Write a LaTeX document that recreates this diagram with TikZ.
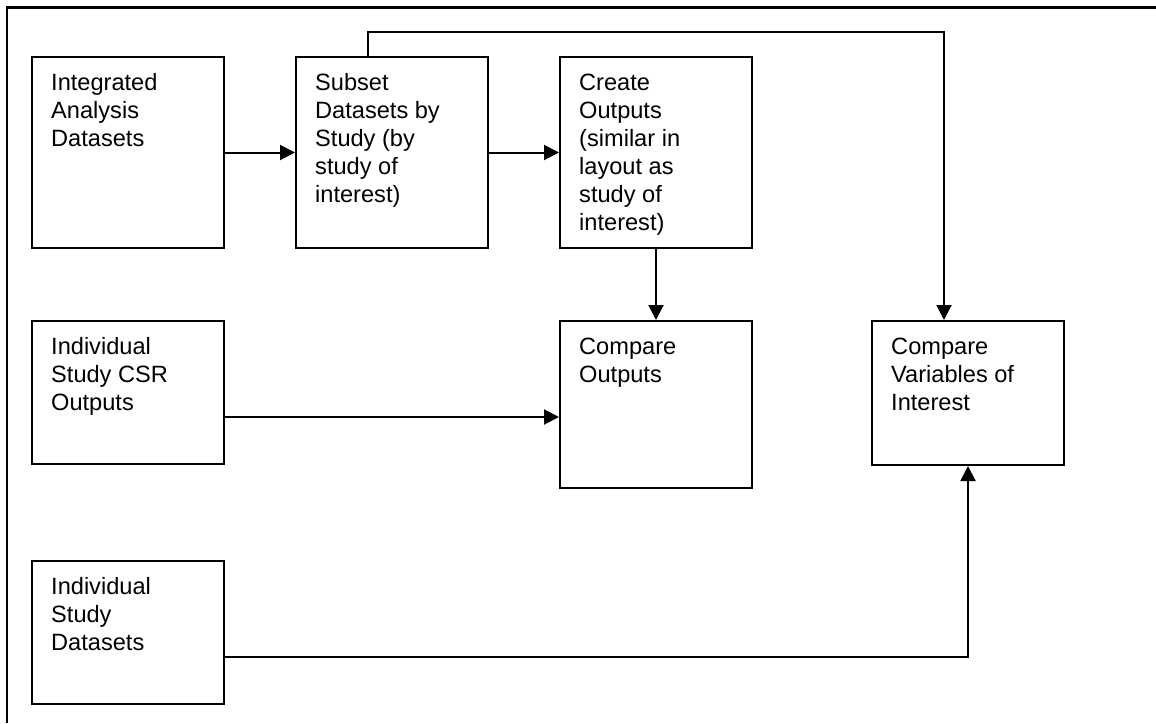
\documentclass[tikz,border=0pt]{standalone}
\usepackage{fontspec}
\setmainfont{Liberation Sans}
\usetikzlibrary{arrows.meta,calc}
\begin{document}
\begin{tikzpicture}[x=1pt,y=-1pt,
  box/.style={draw, line width=2pt, minimum width=192pt, inner sep=0pt},
  txt/.style={anchor=base west, align=left, inner sep=0pt, font=\fontsize{23.6}{28}\selectfont},
  conn/.style={line width=2pt},
  arr/.style={conn, -{Triangle[length=15pt,width=15pt]}},
  frame/.style={line width=2.5pt}]
\useasboundingbox (0,0) rectangle (1156,723);
\draw[frame] (7,723) -- (7,7.5) -- (1156,7.5);
% boxes
\node[box, minimum height=191pt] (A) at (128,152.5) {};
\node[box, minimum height=191pt] (B) at (392,152.5) {};
\node[box, minimum height=191pt] (C) at (656,152.5) {};
\node[box, minimum height=143pt] (D) at (128,392.5) {};
\node[box, minimum height=167pt] (E) at (656,404.5) {};
\node[box, minimum height=144pt] (F) at (968,393) {};
\node[box, minimum height=143pt] (G) at (128,632.5) {};
% texts (anchored at baseline of last line)
\node[txt] (tA) at ([xshift=20pt,yshift=-90pt]A.north west) {Integrated\\Analysis\\Datasets};
\node[txt] (tB) at ([xshift=20pt,yshift=-146pt]B.north west) {Subset\\Datasets by\\Study (by\\study of\\interest)};
\node[txt] (tC) at ([xshift=20pt,yshift=-174pt]C.north west) {Create\\Outputs\\(similar in\\layout as\\study of\\interest)};
\node[txt] (tD) at ([xshift=20pt,yshift=-90pt]D.north west) {Individual\\Study CSR\\Outputs};
\node[txt] (tE) at ([xshift=20pt,yshift=-62pt]E.north west) {Compare\\Outputs};
\node[txt] (tF) at ([xshift=20pt,yshift=-90pt]F.north west) {Compare\\Variables of\\Interest};
\node[txt] (tG) at ([xshift=20pt,yshift=-90pt]G.north west) {Individual\\Study\\Datasets};
% connectors
\draw[arr] (A.east) -- (B.west);
\draw[arr] (B.east) -- (C.west);
\draw[arr] (C.south) -- (E.north);
\draw[arr] ([yshift=-24.5pt]D.east) coordinate (d1) -- (d1 -| E.west);
\draw[arr] ([yshift=-24.5pt]G.east) -| (F.south);
\draw[arr] ([xshift=-24pt]B.north) -- ++(0,-24) -| ([xshift=-24pt]F.north);
\end{tikzpicture}
\end{document}
